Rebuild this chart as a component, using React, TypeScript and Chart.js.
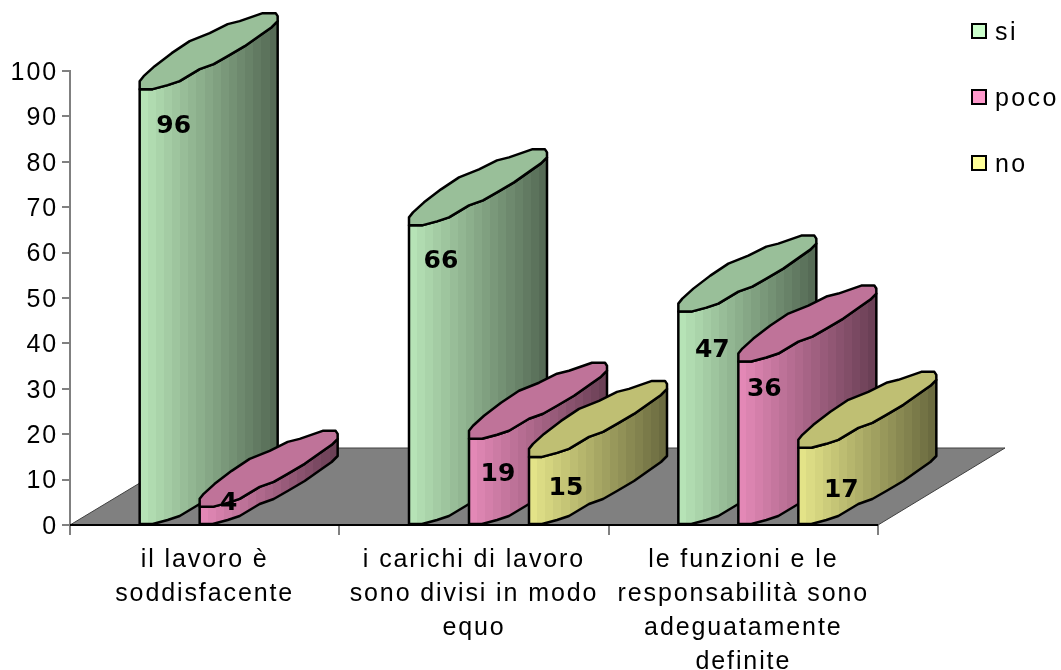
import React, { useEffect, useRef } from "react";
import { Chart, registerables } from "chart.js";

Chart.register(...registerables);

const categories: string[][] = [
  ["il lavoro è", "soddisfacente"],
  ["i carichi di lavoro", "sono divisi in modo", "equo"],
  ["le funzioni e le", "responsabilità sono", "adeguatamente", "definite"],
];
const si = [96, 66, 47];
const poco = [4, 19, 36];
const no = [null, 15, 17];
const seriesNames = ["si", "poco", "no"];
const seriesColors = [
  [204, 255, 204],
  [255, 153, 204],
  [255, 255, 153],
];
const yTicksMax = 100;
const yTicksStep = 10;

// ---- styling / layout constants ----
const FONT = '"Liberation Sans", Arial, sans-serif';
const LEFT = 70;
const RIGHT = 878;
const TOP = 71;
const BOTTOM = 525;
const DEPTH_X = 128;
const DEPTH_Y = 77;
const GROUP_SHIFT = 25;

const frontEdge: [number, number][] = [
  [0, 0], [13, 0], [28, -4], [40, -8], [60, -20], [74, -25], [88, -33], [105, -43], [122, -55], [132, -62], [138, -68],
];
const backEdge: [number, number][] = [
  [138, -73], [136, -76], [123, -76], [100, -68], [88, -65], [70, -56], [50, -48], [32, -36], [15, -23], [4, -13], [0, -8],
];
const labelOffsets = [
  [[34, 37], [29, -3], null],
  [[32, 36], [29, 36], [37, 32]],
  [[34, 39], [26, 28], [43, 43]],
];

const shade = (c: number[], k: number) => `rgb(${c.map((v) => Math.round(v * k)).join(",")})`;

const cylinderPlugin = {
  id: "cylinder3d",
  beforeLayout(chart: any) {
    chart.ctx.letterSpacing = "1.9px";
  },
  beforeDraw(chart: any) {
    chart.ctx.letterSpacing = "1.9px";
  },
  beforeDatasetsDraw(chart: any) {
    const { ctx, scales } = chart;
    const l = scales.x.left;
    const r = scales.x.right;
    const b = scales.y.getPixelForValue(0);
    ctx.save();
    ctx.beginPath();
    ctx.moveTo(l, b);
    ctx.lineTo(l + DEPTH_X, b - DEPTH_Y);
    ctx.lineTo(r + DEPTH_X - 1, b - DEPTH_Y);
    ctx.lineTo(r, b);
    ctx.closePath();
    ctx.fillStyle = "#808080";
    ctx.fill();
    ctx.strokeStyle = "#404040";
    ctx.lineWidth = 1;
    ctx.stroke();
    ctx.beginPath();
    ctx.moveTo(l, b);
    ctx.lineTo(r, b);
    ctx.strokeStyle = "#000";
    ctx.lineWidth = 2;
    ctx.stroke();
    ctx.restore();
  },
  afterDatasetsDraw(chart: any) {
    const { ctx } = chart;
    ctx.save();
    ctx.lineWidth = 2.5;
    ctx.lineJoin = "round";
    ctx.strokeStyle = "#000";
    const texts: [string, number, number][] = [];
    categories.forEach((_, ci) => {
      chart.data.datasets.forEach((ds: any, di: number) => {
        const v = ds.data[ci];
        if (v === null || v === undefined) return;
        const bar = chart.getDatasetMeta(di).data[ci];
        const x = bar.x - bar.width / 2 + GROUP_SHIFT;
        const y = bar.y;
        const base = bar.base;
        const color = seriesColors[di];
        // body
        const grad = ctx.createLinearGradient(x, 0, x + 138, 0);
        const N = 17;
        for (let i = 0; i < N; i++) {
          const k = 0.89 - (0.47 * i) / (N - 1);
          const col = shade(color, k);
          grad.addColorStop(i / N, col);
          grad.addColorStop((i + 1) / N, col);
        }
        ctx.beginPath();
        frontEdge.forEach(([dx, dy], i) => (i ? ctx.lineTo(x + dx, y + dy) : ctx.moveTo(x + dx, y + dy)));
        [...frontEdge].reverse().forEach(([dx, dy]) => ctx.lineTo(x + dx, base + dy));
        ctx.closePath();
        ctx.fillStyle = grad;
        ctx.fill();
        ctx.stroke();
        // top face
        ctx.beginPath();
        frontEdge.forEach(([dx, dy], i) => (i ? ctx.lineTo(x + dx, y + dy) : ctx.moveTo(x + dx, y + dy)));
        backEdge.forEach(([dx, dy]) => ctx.lineTo(x + dx, y + dy));
        ctx.closePath();
        ctx.fillStyle = shade(color, 0.75);
        ctx.fill();
        ctx.stroke();
        const off = labelOffsets[ci][di] as number[];
        texts.push([String(v), x + off[0], y + off[1]]);
      });
    });
    // value labels go on top of all the cylinders of their group
    ctx.fillStyle = "#000";
    ctx.font = 'bold 25px "DejaVu Sans", Verdana, sans-serif';
    ctx.letterSpacing = "0px";
    ctx.textAlign = "center";
    ctx.textBaseline = "middle";
    texts.forEach(([t, x, y]) => ctx.fillText(t, x, y));
    ctx.restore();

    // legend
    ctx.save();
    ctx.font = `25px ${FONT}`;
    ctx.letterSpacing = "2.4px";
    ctx.textAlign = "left";
    ctx.textBaseline = "alphabetic";
    const boxY = [24, 90, 156];
    const baseY = [40, 106, 172];
    chart.data.datasets.forEach((ds: any, i: number) => {
      ctx.fillStyle = ds.legendColor;
      ctx.fillRect(972, boxY[i], 14, 14);
      ctx.strokeStyle = "#000";
      ctx.lineWidth = 2;
      ctx.strokeRect(972, boxY[i], 14, 14);
      ctx.fillStyle = "#000";
      ctx.fillText(ds.label, 995, baseY[i]);
    });
    ctx.restore();
  },
};

export default function App() {
  const ref = useRef<HTMLCanvasElement | null>(null);
  useEffect(() => {
    document.body.style.margin = "0";
    const values = [si, poco, no];
    const chart = new Chart(ref.current as HTMLCanvasElement, {
      type: "bar",
      data: {
        labels: categories as any,
        datasets: seriesNames.map((name, i) => ({
          label: name,
          data: values[i] as any,
          backgroundColor: "rgba(0,0,0,0)",
          borderWidth: 0,
          legendColor: shade(seriesColors[i], 1),
          barPercentage: 1,
          categoryPercentage: 180 / ((RIGHT - LEFT) / 3),
        })) as any,
      },
      options: {
        responsive: false,
        animation: false,
        layout: { padding: { left: 0, top: TOP, right: 1061 - RIGHT, bottom: 0 } },
        plugins: { legend: { display: false }, tooltip: { enabled: false }, title: { display: false } },
        scales: {
          x: {
            afterFit: (s: any) => {
              s.height = 670 - BOTTOM;
            },
            grid: { drawOnChartArea: false, drawTicks: true, tickLength: 10, color: "#808080", lineWidth: 2, offset: true },
            border: { display: false },
            ticks: {
              color: "#000",
              maxRotation: 0,
              autoSkip: false,
              padding: 8,
              font: { family: FONT, size: 25, lineHeight: 1.36 },
            },
          },
          y: {
            min: 0,
            max: yTicksMax,
            afterFit: (s: any) => {
              s.width = LEFT;
            },
            grid: { drawOnChartArea: false, drawTicks: true, tickLength: 8, color: "#808080", lineWidth: 2 },
            border: { display: true, color: "#808080", width: 2 },
            ticks: {
              stepSize: yTicksStep,
              color: "#000",
              padding: 4,
              font: { family: FONT, size: 25, lineHeight: 0.16 },
              // an empty first line nudges each label down to sit level with its tick
              callback: (v: any) => ["", String(v)],
            },
          },
        },
      },
      plugins: [cylinderPlugin as any],
    });
    return () => chart.destroy();
  }, []);
  return <canvas ref={ref} width={1061} height={670} style={{ display: "block", width: 1061, height: 670 }} />;
}
